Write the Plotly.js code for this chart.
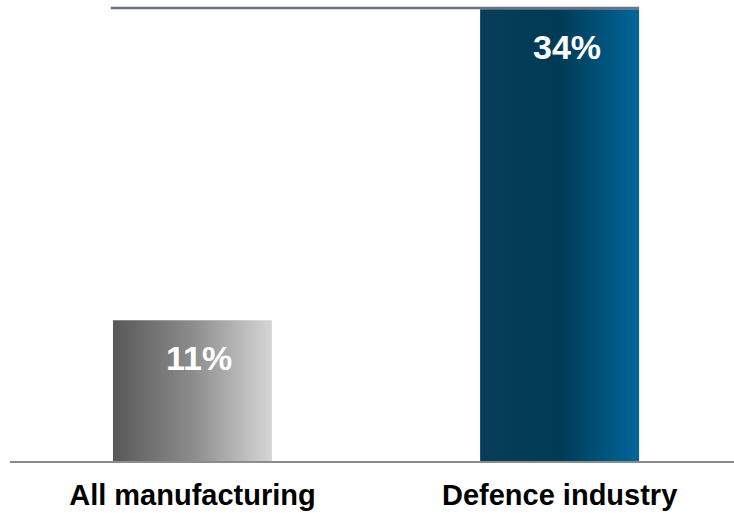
<!DOCTYPE html>
<html>
<head>
<meta charset="utf-8">
<script src="https://cdn.plot.ly/plotly-3.0.1.min.js"></script>
<style>
  html, body { margin: 0; padding: 0; background: #ffffff; }
  #chart { width: 734px; height: 513px; }
</style>
</head>
<body>
<div id="chart"></div>
<script>
// ---- data ----
const categories = ["All manufacturing", "Defence industry"];
const values = [10.6, 34.0];
const valueLabels = ["11%", "34%"];
const positions = [0, 1];

// ---- styles ----
const barWidth = 0.433;
const gradients = [
  [[0, "#585858"], [0.5, "#8c8c8c"], [1, "#d6d6d6"]],
  [[0, "#073d58"], [0.5, "#003a55"], [1, "#00679b"]]
];

const traces = positions.map((p, i) => {
  const l = p - barWidth / 2, r = p + barWidth / 2;
  return {
    type: "scatter",
    mode: "lines",
    x: [l, r, r, l, l],
    y: [0, 0, values[i], values[i], 0],
    fill: "toself",
    fillgradient: { type: "horizontal", colorscale: gradients[i] },
    line: { width: 0, color: "rgba(0,0,0,0)" },
    hoverinfo: "skip",
    showlegend: false
  };
});

const annotations = positions.map((p, i) => ({
  x: p, y: values[i], xref: "x", yref: "y",
  text: "<b>" + valueLabels[i] + "</b>",
  showarrow: false,
  yanchor: "middle",
  yshift: -38,
  xshift: 7,
  font: { family: "Liberation Sans, Arial, sans-serif", size: 34, color: "#ffffff" }
}));

const layout = {
  width: 734, height: 513,
  margin: { l: 10, r: 0, t: 8, b: 52 },
  paper_bgcolor: "#ffffff",
  plot_bgcolor: "#ffffff",
  xaxis: {
    range: [-0.497, 1.475],
    tickvals: positions,
    ticktext: categories.map(c => "<b>" + c + "</b>"),
    showline: true, linecolor: "#8c8c8c", linewidth: 2,
    showgrid: false, zeroline: false, ticks: "",
    ticklabelstandoff: 7,
    tickfont: { family: "Liberation Sans, Arial, sans-serif", size: 29, color: "#000000" },
    fixedrange: true
  },
  yaxis: {
    range: [0, 34.1],
    visible: false, showgrid: false, zeroline: false, fixedrange: true
  },
  shapes: [{
    type: "line", xref: "x", yref: "paper",
    x0: positions[0] - barWidth / 2 - 0.006, x1: positions[1] + barWidth / 2,
    y0: 1, y1: 1,
    line: { color: "#6d7180", width: 2.5 }
  }],
  annotations: annotations
};

Plotly.newPlot("chart", traces, layout, { displayModeBar: false, staticPlot: true });
</script>
</body>
</html>
